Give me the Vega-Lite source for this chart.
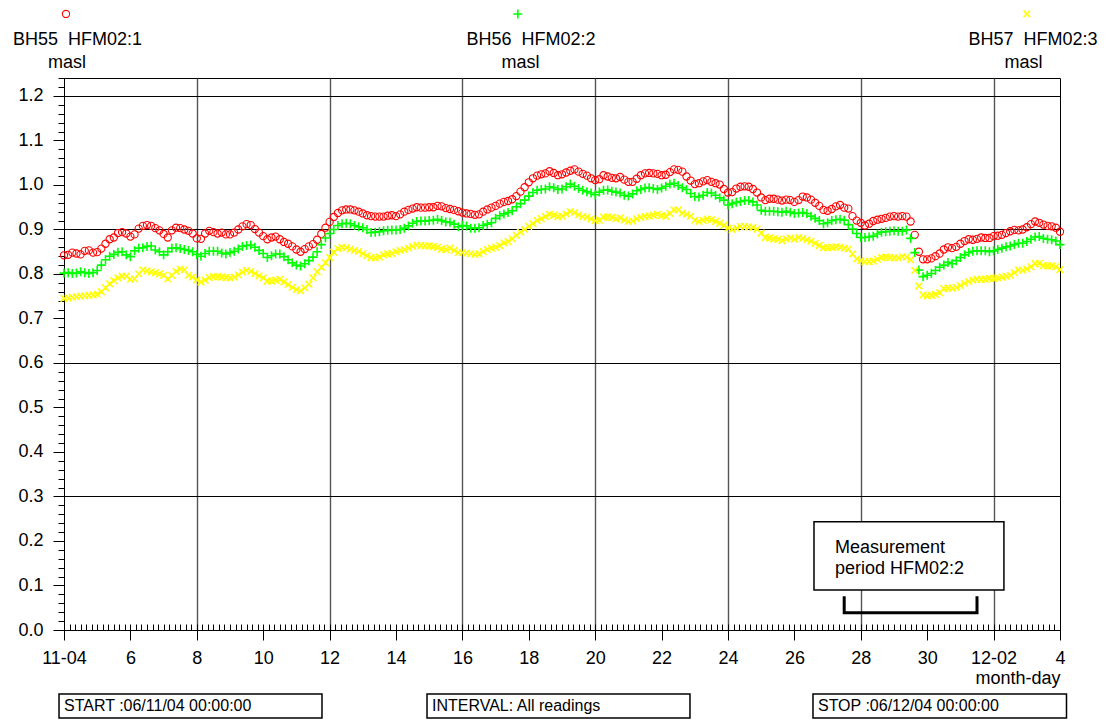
{
"$schema":"https://vega.github.io/schema/vega-lite/v6.json",
"width":996,"height":552,
"autosize":{"type":"none"},
"padding":{"left":64,"top":78,"right":46,"bottom":92},
"background":"white",
"config":{"font":"Liberation Sans","view":{"stroke":"#000","strokeWidth":1},"axis":{"labelFont":"Liberation Sans","titleFont":"Liberation Sans","labelColor":"#000","titleColor":"#000","tickColor":"#000","domainColor":"#000","domainWidth":1,"tickWidth":1}},
"datasets":{
"bh55":[
{"t":"2004-11-04T00:00","v":0.842},{"t":"2004-11-04T03:00","v":0.843},{"t":"2004-11-04T06:00","v":0.848},{"t":"2004-11-04T09:00","v":0.846},{"t":"2004-11-04T12:00","v":0.844},{"t":"2004-11-04T15:00","v":0.852},{"t":"2004-11-04T18:00","v":0.853},{"t":"2004-11-04T21:00","v":0.848},
{"t":"2004-11-05T00:00","v":0.849},{"t":"2004-11-05T03:00","v":0.857},{"t":"2004-11-05T06:00","v":0.868},{"t":"2004-11-05T09:00","v":0.878},{"t":"2004-11-05T12:00","v":0.882},{"t":"2004-11-05T15:00","v":0.892},{"t":"2004-11-05T18:00","v":0.894},{"t":"2004-11-05T21:00","v":0.891},
{"t":"2004-11-06T00:00","v":0.884},{"t":"2004-11-06T03:00","v":0.889},{"t":"2004-11-06T06:00","v":0.902},{"t":"2004-11-06T09:00","v":0.908},{"t":"2004-11-06T12:00","v":0.910},{"t":"2004-11-06T15:00","v":0.908},{"t":"2004-11-06T18:00","v":0.903},{"t":"2004-11-06T21:00","v":0.898},
{"t":"2004-11-07T00:00","v":0.890},{"t":"2004-11-07T03:00","v":0.882},{"t":"2004-11-07T06:00","v":0.898},{"t":"2004-11-07T09:00","v":0.904},{"t":"2004-11-07T12:00","v":0.903},{"t":"2004-11-07T15:00","v":0.900},{"t":"2004-11-07T18:00","v":0.897},{"t":"2004-11-07T21:00","v":0.891},
{"t":"2004-11-08T00:00","v":0.880},{"t":"2004-11-08T03:00","v":0.879},{"t":"2004-11-08T06:00","v":0.891},{"t":"2004-11-08T09:00","v":0.897},{"t":"2004-11-08T12:00","v":0.894},{"t":"2004-11-08T15:00","v":0.891},{"t":"2004-11-08T18:00","v":0.893},{"t":"2004-11-08T21:00","v":0.889},
{"t":"2004-11-09T00:00","v":0.889},{"t":"2004-11-09T03:00","v":0.893},{"t":"2004-11-09T06:00","v":0.900},{"t":"2004-11-09T09:00","v":0.907},{"t":"2004-11-09T12:00","v":0.912},{"t":"2004-11-09T15:00","v":0.910},{"t":"2004-11-09T18:00","v":0.901},{"t":"2004-11-09T21:00","v":0.893},
{"t":"2004-11-10T00:00","v":0.885},{"t":"2004-11-10T03:00","v":0.878},{"t":"2004-11-10T06:00","v":0.882},{"t":"2004-11-10T09:00","v":0.884},{"t":"2004-11-10T12:00","v":0.878},{"t":"2004-11-10T15:00","v":0.872},{"t":"2004-11-10T18:00","v":0.868},{"t":"2004-11-10T21:00","v":0.862},
{"t":"2004-11-11T00:00","v":0.855},{"t":"2004-11-11T03:00","v":0.850},{"t":"2004-11-11T06:00","v":0.856},{"t":"2004-11-11T09:00","v":0.862},{"t":"2004-11-11T12:00","v":0.867},{"t":"2004-11-11T15:00","v":0.877},{"t":"2004-11-11T18:00","v":0.890},{"t":"2004-11-11T21:00","v":0.904},
{"t":"2004-11-12T00:00","v":0.917},{"t":"2004-11-12T03:00","v":0.928},{"t":"2004-11-12T06:00","v":0.937},{"t":"2004-11-12T09:00","v":0.943},{"t":"2004-11-12T12:00","v":0.945},{"t":"2004-11-12T15:00","v":0.945},{"t":"2004-11-12T18:00","v":0.943},{"t":"2004-11-12T21:00","v":0.940},
{"t":"2004-11-13T00:00","v":0.936},{"t":"2004-11-13T03:00","v":0.932},{"t":"2004-11-13T06:00","v":0.930},{"t":"2004-11-13T09:00","v":0.929},{"t":"2004-11-13T12:00","v":0.929},{"t":"2004-11-13T15:00","v":0.929},{"t":"2004-11-13T18:00","v":0.931},{"t":"2004-11-13T21:00","v":0.932},
{"t":"2004-11-14T00:00","v":0.930},{"t":"2004-11-14T03:00","v":0.934},{"t":"2004-11-14T06:00","v":0.940},{"t":"2004-11-14T09:00","v":0.944},{"t":"2004-11-14T12:00","v":0.947},{"t":"2004-11-14T15:00","v":0.950},{"t":"2004-11-14T18:00","v":0.949},{"t":"2004-11-14T21:00","v":0.949},
{"t":"2004-11-15T00:00","v":0.950},{"t":"2004-11-15T03:00","v":0.950},{"t":"2004-11-15T06:00","v":0.953},{"t":"2004-11-15T09:00","v":0.952},{"t":"2004-11-15T12:00","v":0.948},{"t":"2004-11-15T15:00","v":0.946},{"t":"2004-11-15T18:00","v":0.944},{"t":"2004-11-15T21:00","v":0.941},
{"t":"2004-11-16T00:00","v":0.938},{"t":"2004-11-16T03:00","v":0.936},{"t":"2004-11-16T06:00","v":0.935},{"t":"2004-11-16T09:00","v":0.933},{"t":"2004-11-16T12:00","v":0.934},{"t":"2004-11-16T15:00","v":0.940},{"t":"2004-11-16T18:00","v":0.945},{"t":"2004-11-16T21:00","v":0.949},
{"t":"2004-11-17T00:00","v":0.953},{"t":"2004-11-17T03:00","v":0.958},{"t":"2004-11-17T06:00","v":0.962},{"t":"2004-11-17T09:00","v":0.964},{"t":"2004-11-17T12:00","v":0.968},{"t":"2004-11-17T15:00","v":0.975},{"t":"2004-11-17T18:00","v":0.985},{"t":"2004-11-17T21:00","v":0.995},
{"t":"2004-11-18T00:00","v":1.006},{"t":"2004-11-18T03:00","v":1.015},{"t":"2004-11-18T06:00","v":1.021},{"t":"2004-11-18T09:00","v":1.024},{"t":"2004-11-18T12:00","v":1.026},{"t":"2004-11-18T15:00","v":1.031},{"t":"2004-11-18T18:00","v":1.027},{"t":"2004-11-18T21:00","v":1.022},
{"t":"2004-11-19T00:00","v":1.024},{"t":"2004-11-19T03:00","v":1.028},{"t":"2004-11-19T06:00","v":1.032},{"t":"2004-11-19T09:00","v":1.035},{"t":"2004-11-19T12:00","v":1.030},{"t":"2004-11-19T15:00","v":1.025},{"t":"2004-11-19T18:00","v":1.021},{"t":"2004-11-19T21:00","v":1.015},
{"t":"2004-11-20T00:00","v":1.011},{"t":"2004-11-20T03:00","v":1.013},{"t":"2004-11-20T06:00","v":1.022},{"t":"2004-11-20T09:00","v":1.019},{"t":"2004-11-20T12:00","v":1.016},{"t":"2004-11-20T15:00","v":1.015},{"t":"2004-11-20T18:00","v":1.018},{"t":"2004-11-20T21:00","v":1.012},
{"t":"2004-11-21T00:00","v":1.007},{"t":"2004-11-21T03:00","v":1.007},{"t":"2004-11-21T06:00","v":1.014},{"t":"2004-11-21T09:00","v":1.022},{"t":"2004-11-21T12:00","v":1.026},{"t":"2004-11-21T15:00","v":1.027},{"t":"2004-11-21T18:00","v":1.026},{"t":"2004-11-21T21:00","v":1.025},
{"t":"2004-11-22T00:00","v":1.022},{"t":"2004-11-22T03:00","v":1.023},{"t":"2004-11-22T06:00","v":1.029},{"t":"2004-11-22T09:00","v":1.035},{"t":"2004-11-22T12:00","v":1.034},{"t":"2004-11-22T15:00","v":1.030},{"t":"2004-11-22T18:00","v":1.019},{"t":"2004-11-22T21:00","v":1.010},
{"t":"2004-11-23T00:00","v":1.002},{"t":"2004-11-23T03:00","v":1.004},{"t":"2004-11-23T06:00","v":1.008},{"t":"2004-11-23T09:00","v":1.011},{"t":"2004-11-23T12:00","v":1.007},{"t":"2004-11-23T15:00","v":1.004},{"t":"2004-11-23T18:00","v":1.001},{"t":"2004-11-23T21:00","v":0.991},
{"t":"2004-11-24T00:00","v":0.983},{"t":"2004-11-24T03:00","v":0.984},{"t":"2004-11-24T06:00","v":0.992},{"t":"2004-11-24T09:00","v":0.996},{"t":"2004-11-24T12:00","v":0.997},{"t":"2004-11-24T15:00","v":0.996},{"t":"2004-11-24T18:00","v":0.991},{"t":"2004-11-24T21:00","v":0.983},
{"t":"2004-11-25T00:00","v":0.972},{"t":"2004-11-25T03:00","v":0.966},{"t":"2004-11-25T06:00","v":0.969},{"t":"2004-11-25T09:00","v":0.969},{"t":"2004-11-25T12:00","v":0.967},{"t":"2004-11-25T15:00","v":0.965},{"t":"2004-11-25T18:00","v":0.967},{"t":"2004-11-25T21:00","v":0.966},
{"t":"2004-11-26T00:00","v":0.962},{"t":"2004-11-26T03:00","v":0.966},{"t":"2004-11-26T06:00","v":0.974},{"t":"2004-11-26T09:00","v":0.972},{"t":"2004-11-26T12:00","v":0.967},{"t":"2004-11-26T15:00","v":0.960},{"t":"2004-11-26T18:00","v":0.953},{"t":"2004-11-26T21:00","v":0.944},
{"t":"2004-11-27T00:00","v":0.942},{"t":"2004-11-27T03:00","v":0.946},{"t":"2004-11-27T06:00","v":0.952},{"t":"2004-11-27T09:00","v":0.955},{"t":"2004-11-27T12:00","v":0.949},{"t":"2004-11-27T15:00","v":0.947},{"t":"2004-11-27T18:00","v":0.930},{"t":"2004-11-27T21:00","v":0.920},
{"t":"2004-11-28T00:00","v":0.915},{"t":"2004-11-28T03:00","v":0.909},{"t":"2004-11-28T06:00","v":0.913},{"t":"2004-11-28T09:00","v":0.919},{"t":"2004-11-28T12:00","v":0.922},{"t":"2004-11-28T15:00","v":0.924},{"t":"2004-11-28T18:00","v":0.926},{"t":"2004-11-28T21:00","v":0.929},
{"t":"2004-11-29T00:00","v":0.930},{"t":"2004-11-29T03:00","v":0.929},{"t":"2004-11-29T06:00","v":0.930},{"t":"2004-11-29T09:00","v":0.929},{"t":"2004-11-29T12:00","v":0.918},{"t":"2004-11-29T15:00","v":0.888},{"t":"2004-11-29T18:00","v":0.850},{"t":"2004-11-29T21:00","v":0.833},
{"t":"2004-11-30T00:00","v":0.833},{"t":"2004-11-30T03:00","v":0.835},{"t":"2004-11-30T06:00","v":0.840},{"t":"2004-11-30T09:00","v":0.846},{"t":"2004-11-30T12:00","v":0.855},{"t":"2004-11-30T15:00","v":0.860},{"t":"2004-11-30T18:00","v":0.858},{"t":"2004-11-30T21:00","v":0.861},
{"t":"2004-12-01T00:00","v":0.868},{"t":"2004-12-01T03:00","v":0.874},{"t":"2004-12-01T06:00","v":0.878},{"t":"2004-12-01T09:00","v":0.877},{"t":"2004-12-01T12:00","v":0.879},{"t":"2004-12-01T15:00","v":0.882},{"t":"2004-12-01T18:00","v":0.881},{"t":"2004-12-01T21:00","v":0.881},
{"t":"2004-12-02T00:00","v":0.885},{"t":"2004-12-02T03:00","v":0.886},{"t":"2004-12-02T06:00","v":0.888},{"t":"2004-12-02T09:00","v":0.892},{"t":"2004-12-02T12:00","v":0.896},{"t":"2004-12-02T15:00","v":0.899},{"t":"2004-12-02T18:00","v":0.898},{"t":"2004-12-02T21:00","v":0.900},
{"t":"2004-12-03T00:00","v":0.905},{"t":"2004-12-03T03:00","v":0.912},{"t":"2004-12-03T06:00","v":0.918},{"t":"2004-12-03T09:00","v":0.915},{"t":"2004-12-03T12:00","v":0.911},{"t":"2004-12-03T15:00","v":0.908},{"t":"2004-12-03T18:00","v":0.907},{"t":"2004-12-03T21:00","v":0.904},
{"t":"2004-12-04T00:00","v":0.895}
],
"bh56":[
{"t":"2004-11-04T00:00","v":0.802},{"t":"2004-11-04T03:00","v":0.803},{"t":"2004-11-04T06:00","v":0.801},{"t":"2004-11-04T09:00","v":0.802},{"t":"2004-11-04T12:00","v":0.805},{"t":"2004-11-04T15:00","v":0.803},{"t":"2004-11-04T18:00","v":0.801},{"t":"2004-11-04T21:00","v":0.803},
{"t":"2004-11-05T00:00","v":0.808},{"t":"2004-11-05T03:00","v":0.820},{"t":"2004-11-05T06:00","v":0.832},{"t":"2004-11-05T09:00","v":0.840},{"t":"2004-11-05T12:00","v":0.844},{"t":"2004-11-05T15:00","v":0.849},{"t":"2004-11-05T18:00","v":0.850},{"t":"2004-11-05T21:00","v":0.843},
{"t":"2004-11-06T00:00","v":0.839},{"t":"2004-11-06T03:00","v":0.852},{"t":"2004-11-06T06:00","v":0.858},{"t":"2004-11-06T09:00","v":0.859},{"t":"2004-11-06T12:00","v":0.862},{"t":"2004-11-06T15:00","v":0.863},{"t":"2004-11-06T18:00","v":0.854},{"t":"2004-11-06T21:00","v":0.850},
{"t":"2004-11-07T00:00","v":0.843},{"t":"2004-11-07T03:00","v":0.850},{"t":"2004-11-07T06:00","v":0.858},{"t":"2004-11-07T09:00","v":0.859},{"t":"2004-11-07T12:00","v":0.857},{"t":"2004-11-07T15:00","v":0.855},{"t":"2004-11-07T18:00","v":0.853},{"t":"2004-11-07T21:00","v":0.850},
{"t":"2004-11-08T00:00","v":0.844},{"t":"2004-11-08T03:00","v":0.840},{"t":"2004-11-08T06:00","v":0.846},{"t":"2004-11-08T09:00","v":0.851},{"t":"2004-11-08T12:00","v":0.851},{"t":"2004-11-08T15:00","v":0.851},{"t":"2004-11-08T18:00","v":0.847},{"t":"2004-11-08T21:00","v":0.845},
{"t":"2004-11-09T00:00","v":0.848},{"t":"2004-11-09T03:00","v":0.851},{"t":"2004-11-09T06:00","v":0.856},{"t":"2004-11-09T09:00","v":0.862},{"t":"2004-11-09T12:00","v":0.864},{"t":"2004-11-09T15:00","v":0.865},{"t":"2004-11-09T18:00","v":0.860},{"t":"2004-11-09T21:00","v":0.853},
{"t":"2004-11-10T00:00","v":0.846},{"t":"2004-11-10T03:00","v":0.837},{"t":"2004-11-10T06:00","v":0.841},{"t":"2004-11-10T09:00","v":0.845},{"t":"2004-11-10T12:00","v":0.845},{"t":"2004-11-10T15:00","v":0.839},{"t":"2004-11-10T18:00","v":0.832},{"t":"2004-11-10T21:00","v":0.825},
{"t":"2004-11-11T00:00","v":0.820},{"t":"2004-11-11T03:00","v":0.818},{"t":"2004-11-11T06:00","v":0.823},{"t":"2004-11-11T09:00","v":0.830},{"t":"2004-11-11T12:00","v":0.838},{"t":"2004-11-11T15:00","v":0.850},{"t":"2004-11-11T18:00","v":0.866},{"t":"2004-11-11T21:00","v":0.881},
{"t":"2004-11-12T00:00","v":0.891},{"t":"2004-11-12T03:00","v":0.900},{"t":"2004-11-12T06:00","v":0.909},{"t":"2004-11-12T09:00","v":0.913},{"t":"2004-11-12T12:00","v":0.914},{"t":"2004-11-12T15:00","v":0.913},{"t":"2004-11-12T18:00","v":0.909},{"t":"2004-11-12T21:00","v":0.906},
{"t":"2004-11-13T00:00","v":0.904},{"t":"2004-11-13T03:00","v":0.900},{"t":"2004-11-13T06:00","v":0.893},{"t":"2004-11-13T09:00","v":0.894},{"t":"2004-11-13T12:00","v":0.895},{"t":"2004-11-13T15:00","v":0.897},{"t":"2004-11-13T18:00","v":0.898},{"t":"2004-11-13T21:00","v":0.899},
{"t":"2004-11-14T00:00","v":0.899},{"t":"2004-11-14T03:00","v":0.900},{"t":"2004-11-14T06:00","v":0.903},{"t":"2004-11-14T09:00","v":0.908},{"t":"2004-11-14T12:00","v":0.914},{"t":"2004-11-14T15:00","v":0.918},{"t":"2004-11-14T18:00","v":0.919},{"t":"2004-11-14T21:00","v":0.919},
{"t":"2004-11-15T00:00","v":0.920},{"t":"2004-11-15T03:00","v":0.921},{"t":"2004-11-15T06:00","v":0.923},{"t":"2004-11-15T09:00","v":0.920},{"t":"2004-11-15T12:00","v":0.917},{"t":"2004-11-15T15:00","v":0.916},{"t":"2004-11-15T18:00","v":0.912},{"t":"2004-11-15T21:00","v":0.906},
{"t":"2004-11-16T00:00","v":0.909},{"t":"2004-11-16T03:00","v":0.908},{"t":"2004-11-16T06:00","v":0.903},{"t":"2004-11-16T09:00","v":0.903},{"t":"2004-11-16T12:00","v":0.904},{"t":"2004-11-16T15:00","v":0.909},{"t":"2004-11-16T18:00","v":0.912},{"t":"2004-11-16T21:00","v":0.915},
{"t":"2004-11-17T00:00","v":0.925},{"t":"2004-11-17T03:00","v":0.931},{"t":"2004-11-17T06:00","v":0.935},{"t":"2004-11-17T09:00","v":0.938},{"t":"2004-11-17T12:00","v":0.942},{"t":"2004-11-17T15:00","v":0.951},{"t":"2004-11-17T18:00","v":0.958},{"t":"2004-11-17T21:00","v":0.966},
{"t":"2004-11-18T00:00","v":0.975},{"t":"2004-11-18T03:00","v":0.983},{"t":"2004-11-18T06:00","v":0.988},{"t":"2004-11-18T09:00","v":0.990},{"t":"2004-11-18T12:00","v":0.991},{"t":"2004-11-18T15:00","v":0.996},{"t":"2004-11-18T18:00","v":0.994},{"t":"2004-11-18T21:00","v":0.990},
{"t":"2004-11-19T00:00","v":0.991},{"t":"2004-11-19T03:00","v":0.996},{"t":"2004-11-19T06:00","v":1.002},{"t":"2004-11-19T09:00","v":0.997},{"t":"2004-11-19T12:00","v":0.992},{"t":"2004-11-19T15:00","v":0.988},{"t":"2004-11-19T18:00","v":0.985},{"t":"2004-11-19T21:00","v":0.982},
{"t":"2004-11-20T00:00","v":0.978},{"t":"2004-11-20T03:00","v":0.984},{"t":"2004-11-20T06:00","v":0.988},{"t":"2004-11-20T09:00","v":0.989},{"t":"2004-11-20T12:00","v":0.986},{"t":"2004-11-20T15:00","v":0.984},{"t":"2004-11-20T18:00","v":0.982},{"t":"2004-11-20T21:00","v":0.977},
{"t":"2004-11-21T00:00","v":0.975},{"t":"2004-11-21T03:00","v":0.980},{"t":"2004-11-21T06:00","v":0.987},{"t":"2004-11-21T09:00","v":0.990},{"t":"2004-11-21T12:00","v":0.993},{"t":"2004-11-21T15:00","v":0.994},{"t":"2004-11-21T18:00","v":0.992},{"t":"2004-11-21T21:00","v":0.990},
{"t":"2004-11-22T00:00","v":0.993},{"t":"2004-11-22T03:00","v":0.997},{"t":"2004-11-22T06:00","v":1.002},{"t":"2004-11-22T09:00","v":1.004},{"t":"2004-11-22T12:00","v":0.999},{"t":"2004-11-22T15:00","v":0.994},{"t":"2004-11-22T18:00","v":0.990},{"t":"2004-11-22T21:00","v":0.981},
{"t":"2004-11-23T00:00","v":0.974},{"t":"2004-11-23T03:00","v":0.973},{"t":"2004-11-23T06:00","v":0.977},{"t":"2004-11-23T09:00","v":0.983},{"t":"2004-11-23T12:00","v":0.982},{"t":"2004-11-23T15:00","v":0.977},{"t":"2004-11-23T18:00","v":0.971},{"t":"2004-11-23T21:00","v":0.966},
{"t":"2004-11-24T00:00","v":0.955},{"t":"2004-11-24T03:00","v":0.958},{"t":"2004-11-24T06:00","v":0.961},{"t":"2004-11-24T09:00","v":0.963},{"t":"2004-11-24T12:00","v":0.965},{"t":"2004-11-24T15:00","v":0.965},{"t":"2004-11-24T18:00","v":0.962},{"t":"2004-11-24T21:00","v":0.955},
{"t":"2004-11-25T00:00","v":0.943},{"t":"2004-11-25T03:00","v":0.941},{"t":"2004-11-25T06:00","v":0.941},{"t":"2004-11-25T09:00","v":0.941},{"t":"2004-11-25T12:00","v":0.940},{"t":"2004-11-25T15:00","v":0.939},{"t":"2004-11-25T18:00","v":0.941},{"t":"2004-11-25T21:00","v":0.939},
{"t":"2004-11-26T00:00","v":0.936},{"t":"2004-11-26T03:00","v":0.937},{"t":"2004-11-26T06:00","v":0.938},{"t":"2004-11-26T09:00","v":0.936},{"t":"2004-11-26T12:00","v":0.930},{"t":"2004-11-26T15:00","v":0.925},{"t":"2004-11-26T18:00","v":0.920},{"t":"2004-11-26T21:00","v":0.913},
{"t":"2004-11-27T00:00","v":0.915},{"t":"2004-11-27T03:00","v":0.920},{"t":"2004-11-27T06:00","v":0.922},{"t":"2004-11-27T09:00","v":0.923},{"t":"2004-11-27T12:00","v":0.921},{"t":"2004-11-27T15:00","v":0.911},{"t":"2004-11-27T18:00","v":0.901},{"t":"2004-11-27T21:00","v":0.891},
{"t":"2004-11-28T00:00","v":0.882},{"t":"2004-11-28T03:00","v":0.882},{"t":"2004-11-28T06:00","v":0.883},{"t":"2004-11-28T09:00","v":0.885},{"t":"2004-11-28T12:00","v":0.890},{"t":"2004-11-28T15:00","v":0.894},{"t":"2004-11-28T18:00","v":0.895},{"t":"2004-11-28T21:00","v":0.896},
{"t":"2004-11-29T00:00","v":0.897},{"t":"2004-11-29T03:00","v":0.896},{"t":"2004-11-29T06:00","v":0.896},{"t":"2004-11-29T09:00","v":0.899},{"t":"2004-11-29T12:00","v":0.880},{"t":"2004-11-29T15:00","v":0.848},{"t":"2004-11-29T18:00","v":0.809},{"t":"2004-11-29T21:00","v":0.794},
{"t":"2004-11-30T00:00","v":0.797},{"t":"2004-11-30T03:00","v":0.801},{"t":"2004-11-30T06:00","v":0.808},{"t":"2004-11-30T09:00","v":0.815},{"t":"2004-11-30T12:00","v":0.820},{"t":"2004-11-30T15:00","v":0.826},{"t":"2004-11-30T18:00","v":0.823},{"t":"2004-11-30T21:00","v":0.830},
{"t":"2004-12-01T00:00","v":0.837},{"t":"2004-12-01T03:00","v":0.843},{"t":"2004-12-01T06:00","v":0.848},{"t":"2004-12-01T09:00","v":0.851},{"t":"2004-12-01T12:00","v":0.852},{"t":"2004-12-01T15:00","v":0.852},{"t":"2004-12-01T18:00","v":0.852},{"t":"2004-12-01T21:00","v":0.850},
{"t":"2004-12-02T00:00","v":0.852},{"t":"2004-12-02T03:00","v":0.855},{"t":"2004-12-02T06:00","v":0.858},{"t":"2004-12-02T09:00","v":0.861},{"t":"2004-12-02T12:00","v":0.863},{"t":"2004-12-02T15:00","v":0.866},{"t":"2004-12-02T18:00","v":0.869},{"t":"2004-12-02T21:00","v":0.869},
{"t":"2004-12-03T00:00","v":0.873},{"t":"2004-12-03T03:00","v":0.878},{"t":"2004-12-03T06:00","v":0.883},{"t":"2004-12-03T09:00","v":0.884},{"t":"2004-12-03T12:00","v":0.880},{"t":"2004-12-03T15:00","v":0.878},{"t":"2004-12-03T18:00","v":0.877},{"t":"2004-12-03T21:00","v":0.874},
{"t":"2004-12-04T00:00","v":0.866}
],
"bh57":[
{"t":"2004-11-04T00:00","v":0.745},{"t":"2004-11-04T03:00","v":0.746},{"t":"2004-11-04T06:00","v":0.748},{"t":"2004-11-04T09:00","v":0.749},{"t":"2004-11-04T12:00","v":0.750},{"t":"2004-11-04T15:00","v":0.751},{"t":"2004-11-04T18:00","v":0.752},{"t":"2004-11-04T21:00","v":0.753},
{"t":"2004-11-05T00:00","v":0.754},{"t":"2004-11-05T03:00","v":0.760},{"t":"2004-11-05T06:00","v":0.769},{"t":"2004-11-05T09:00","v":0.778},{"t":"2004-11-05T12:00","v":0.785},{"t":"2004-11-05T15:00","v":0.791},{"t":"2004-11-05T18:00","v":0.795},{"t":"2004-11-05T21:00","v":0.795},
{"t":"2004-11-06T00:00","v":0.788},{"t":"2004-11-06T03:00","v":0.789},{"t":"2004-11-06T06:00","v":0.800},{"t":"2004-11-06T09:00","v":0.809},{"t":"2004-11-06T12:00","v":0.807},{"t":"2004-11-06T15:00","v":0.805},{"t":"2004-11-06T18:00","v":0.803},{"t":"2004-11-06T21:00","v":0.800},
{"t":"2004-11-07T00:00","v":0.797},{"t":"2004-11-07T03:00","v":0.789},{"t":"2004-11-07T06:00","v":0.797},{"t":"2004-11-07T09:00","v":0.806},{"t":"2004-11-07T12:00","v":0.811},{"t":"2004-11-07T15:00","v":0.809},{"t":"2004-11-07T18:00","v":0.797},{"t":"2004-11-07T21:00","v":0.793},
{"t":"2004-11-08T00:00","v":0.787},{"t":"2004-11-08T03:00","v":0.782},{"t":"2004-11-08T06:00","v":0.786},{"t":"2004-11-08T09:00","v":0.792},{"t":"2004-11-08T12:00","v":0.794},{"t":"2004-11-08T15:00","v":0.794},{"t":"2004-11-08T18:00","v":0.793},{"t":"2004-11-08T21:00","v":0.792},
{"t":"2004-11-09T00:00","v":0.791},{"t":"2004-11-09T03:00","v":0.793},{"t":"2004-11-09T06:00","v":0.798},{"t":"2004-11-09T09:00","v":0.804},{"t":"2004-11-09T12:00","v":0.808},{"t":"2004-11-09T15:00","v":0.806},{"t":"2004-11-09T18:00","v":0.801},{"t":"2004-11-09T21:00","v":0.796},
{"t":"2004-11-10T00:00","v":0.791},{"t":"2004-11-10T03:00","v":0.784},{"t":"2004-11-10T06:00","v":0.784},{"t":"2004-11-10T09:00","v":0.786},{"t":"2004-11-10T12:00","v":0.788},{"t":"2004-11-10T15:00","v":0.782},{"t":"2004-11-10T18:00","v":0.776},{"t":"2004-11-10T21:00","v":0.770},
{"t":"2004-11-11T00:00","v":0.765},{"t":"2004-11-11T03:00","v":0.762},{"t":"2004-11-11T06:00","v":0.769},{"t":"2004-11-11T09:00","v":0.777},{"t":"2004-11-11T12:00","v":0.791},{"t":"2004-11-11T15:00","v":0.805},{"t":"2004-11-11T18:00","v":0.815},{"t":"2004-11-11T21:00","v":0.825},
{"t":"2004-11-12T00:00","v":0.837},{"t":"2004-11-12T03:00","v":0.849},{"t":"2004-11-12T06:00","v":0.857},{"t":"2004-11-12T09:00","v":0.860},{"t":"2004-11-12T12:00","v":0.859},{"t":"2004-11-12T15:00","v":0.856},{"t":"2004-11-12T18:00","v":0.853},{"t":"2004-11-12T21:00","v":0.851},
{"t":"2004-11-13T00:00","v":0.846},{"t":"2004-11-13T03:00","v":0.841},{"t":"2004-11-13T06:00","v":0.837},{"t":"2004-11-13T09:00","v":0.836},{"t":"2004-11-13T12:00","v":0.838},{"t":"2004-11-13T15:00","v":0.843},{"t":"2004-11-13T18:00","v":0.845},{"t":"2004-11-13T21:00","v":0.846},
{"t":"2004-11-14T00:00","v":0.850},{"t":"2004-11-14T03:00","v":0.853},{"t":"2004-11-14T06:00","v":0.855},{"t":"2004-11-14T09:00","v":0.858},{"t":"2004-11-14T12:00","v":0.862},{"t":"2004-11-14T15:00","v":0.865},{"t":"2004-11-14T18:00","v":0.864},{"t":"2004-11-14T21:00","v":0.863},
{"t":"2004-11-15T00:00","v":0.863},{"t":"2004-11-15T03:00","v":0.862},{"t":"2004-11-15T06:00","v":0.860},{"t":"2004-11-15T09:00","v":0.856},{"t":"2004-11-15T12:00","v":0.855},{"t":"2004-11-15T15:00","v":0.858},{"t":"2004-11-15T18:00","v":0.853},{"t":"2004-11-15T21:00","v":0.848},
{"t":"2004-11-16T00:00","v":0.848},{"t":"2004-11-16T03:00","v":0.847},{"t":"2004-11-16T06:00","v":0.846},{"t":"2004-11-16T09:00","v":0.844},{"t":"2004-11-16T12:00","v":0.845},{"t":"2004-11-16T15:00","v":0.850},{"t":"2004-11-16T18:00","v":0.855},{"t":"2004-11-16T21:00","v":0.858},
{"t":"2004-11-17T00:00","v":0.860},{"t":"2004-11-17T03:00","v":0.864},{"t":"2004-11-17T06:00","v":0.870},{"t":"2004-11-17T09:00","v":0.873},{"t":"2004-11-17T12:00","v":0.879},{"t":"2004-11-17T15:00","v":0.887},{"t":"2004-11-17T18:00","v":0.894},{"t":"2004-11-17T21:00","v":0.900},
{"t":"2004-11-18T00:00","v":0.907},{"t":"2004-11-18T03:00","v":0.913},{"t":"2004-11-18T06:00","v":0.920},{"t":"2004-11-18T09:00","v":0.924},{"t":"2004-11-18T12:00","v":0.929},{"t":"2004-11-18T15:00","v":0.934},{"t":"2004-11-18T18:00","v":0.932},{"t":"2004-11-18T21:00","v":0.929},
{"t":"2004-11-19T00:00","v":0.930},{"t":"2004-11-19T03:00","v":0.935},{"t":"2004-11-19T06:00","v":0.940},{"t":"2004-11-19T09:00","v":0.938},{"t":"2004-11-19T12:00","v":0.933},{"t":"2004-11-19T15:00","v":0.929},{"t":"2004-11-19T18:00","v":0.928},{"t":"2004-11-19T21:00","v":0.924},
{"t":"2004-11-20T00:00","v":0.920},{"t":"2004-11-20T03:00","v":0.921},{"t":"2004-11-20T06:00","v":0.928},{"t":"2004-11-20T09:00","v":0.928},{"t":"2004-11-20T12:00","v":0.927},{"t":"2004-11-20T15:00","v":0.924},{"t":"2004-11-20T18:00","v":0.926},{"t":"2004-11-20T21:00","v":0.921},
{"t":"2004-11-21T00:00","v":0.918},{"t":"2004-11-21T03:00","v":0.919},{"t":"2004-11-21T06:00","v":0.924},{"t":"2004-11-21T09:00","v":0.927},{"t":"2004-11-21T12:00","v":0.929},{"t":"2004-11-21T15:00","v":0.930},{"t":"2004-11-21T18:00","v":0.932},{"t":"2004-11-21T21:00","v":0.934},
{"t":"2004-11-22T00:00","v":0.931},{"t":"2004-11-22T03:00","v":0.930},{"t":"2004-11-22T06:00","v":0.936},{"t":"2004-11-22T09:00","v":0.944},{"t":"2004-11-22T12:00","v":0.944},{"t":"2004-11-22T15:00","v":0.937},{"t":"2004-11-22T18:00","v":0.934},{"t":"2004-11-22T21:00","v":0.930},
{"t":"2004-11-23T00:00","v":0.921},{"t":"2004-11-23T03:00","v":0.918},{"t":"2004-11-23T06:00","v":0.920},{"t":"2004-11-23T09:00","v":0.923},{"t":"2004-11-23T12:00","v":0.922},{"t":"2004-11-23T15:00","v":0.918},{"t":"2004-11-23T18:00","v":0.914},{"t":"2004-11-23T21:00","v":0.909},
{"t":"2004-11-24T00:00","v":0.903},{"t":"2004-11-24T03:00","v":0.900},{"t":"2004-11-24T06:00","v":0.903},{"t":"2004-11-24T09:00","v":0.907},{"t":"2004-11-24T12:00","v":0.907},{"t":"2004-11-24T15:00","v":0.906},{"t":"2004-11-24T18:00","v":0.905},{"t":"2004-11-24T21:00","v":0.901},
{"t":"2004-11-25T00:00","v":0.892},{"t":"2004-11-25T03:00","v":0.882},{"t":"2004-11-25T06:00","v":0.881},{"t":"2004-11-25T09:00","v":0.879},{"t":"2004-11-25T12:00","v":0.878},{"t":"2004-11-25T15:00","v":0.875},{"t":"2004-11-25T18:00","v":0.879},{"t":"2004-11-25T21:00","v":0.881},
{"t":"2004-11-26T00:00","v":0.878},{"t":"2004-11-26T03:00","v":0.882},{"t":"2004-11-26T06:00","v":0.880},{"t":"2004-11-26T09:00","v":0.877},{"t":"2004-11-26T12:00","v":0.874},{"t":"2004-11-26T15:00","v":0.869},{"t":"2004-11-26T18:00","v":0.864},{"t":"2004-11-26T21:00","v":0.859},
{"t":"2004-11-27T00:00","v":0.859},{"t":"2004-11-27T03:00","v":0.860},{"t":"2004-11-27T06:00","v":0.861},{"t":"2004-11-27T09:00","v":0.860},{"t":"2004-11-27T12:00","v":0.858},{"t":"2004-11-27T15:00","v":0.856},{"t":"2004-11-27T18:00","v":0.845},{"t":"2004-11-27T21:00","v":0.834},
{"t":"2004-11-28T00:00","v":0.830},{"t":"2004-11-28T03:00","v":0.828},{"t":"2004-11-28T06:00","v":0.828},{"t":"2004-11-28T09:00","v":0.829},{"t":"2004-11-28T12:00","v":0.833},{"t":"2004-11-28T15:00","v":0.837},{"t":"2004-11-28T18:00","v":0.838},{"t":"2004-11-28T21:00","v":0.837},
{"t":"2004-11-29T00:00","v":0.836},{"t":"2004-11-29T03:00","v":0.836},{"t":"2004-11-29T06:00","v":0.839},{"t":"2004-11-29T09:00","v":0.838},{"t":"2004-11-29T12:00","v":0.832},{"t":"2004-11-29T15:00","v":0.808},{"t":"2004-11-29T18:00","v":0.773},{"t":"2004-11-29T21:00","v":0.753},
{"t":"2004-11-30T00:00","v":0.751},{"t":"2004-11-30T03:00","v":0.752},{"t":"2004-11-30T06:00","v":0.754},{"t":"2004-11-30T09:00","v":0.758},{"t":"2004-11-30T12:00","v":0.767},{"t":"2004-11-30T15:00","v":0.768},{"t":"2004-11-30T18:00","v":0.768},{"t":"2004-11-30T21:00","v":0.770},
{"t":"2004-12-01T00:00","v":0.774},{"t":"2004-12-01T03:00","v":0.779},{"t":"2004-12-01T06:00","v":0.783},{"t":"2004-12-01T09:00","v":0.786},{"t":"2004-12-01T12:00","v":0.788},{"t":"2004-12-01T15:00","v":0.788},{"t":"2004-12-01T18:00","v":0.788},{"t":"2004-12-01T21:00","v":0.790},
{"t":"2004-12-02T00:00","v":0.790},{"t":"2004-12-02T03:00","v":0.791},{"t":"2004-12-02T06:00","v":0.793},{"t":"2004-12-02T09:00","v":0.795},{"t":"2004-12-02T12:00","v":0.797},{"t":"2004-12-02T15:00","v":0.803},{"t":"2004-12-02T18:00","v":0.809},{"t":"2004-12-02T21:00","v":0.808},
{"t":"2004-12-03T00:00","v":0.811},{"t":"2004-12-03T03:00","v":0.816},{"t":"2004-12-03T06:00","v":0.823},{"t":"2004-12-03T09:00","v":0.824},{"t":"2004-12-03T12:00","v":0.819},{"t":"2004-12-03T15:00","v":0.818},{"t":"2004-12-03T18:00","v":0.818},{"t":"2004-12-03T21:00","v":0.816},
{"t":"2004-12-04T00:00","v":0.810}
]
},
"encoding":{
"x":{"field":"t","type":"temporal","scale":{"domain":[{"year":2004,"month":11,"date":4},{"year":2004,"month":12,"date":4}],"nice":false},"axis":null},
"y":{"field":"v","type":"quantitative","scale":{"domain":[0,1.2404],"nice":false,"zero":false},"axis":null}
},
"resolve":{"axis":{"x":"independent","y":"independent"}},
"layer":[
{"data":{"name":"bh55"},
 "mark":{"type":"point","shape":"circle","filled":false,"color":"#ff0000","size":52,"strokeWidth":1.1,"opacity":1},
 "encoding":{
  "x":{"field":"t","type":"temporal","scale":{"domain":[{"year":2004,"month":11,"date":4},{"year":2004,"month":12,"date":4}],"nice":false},
   "axis":{"orient":"bottom","values":[{"year":2004,"month":11,"date":4},{"year":2004,"month":11,"date":6},{"year":2004,"month":11,"date":8},{"year":2004,"month":11,"date":10},{"year":2004,"month":11,"date":12},{"year":2004,"month":11,"date":14},{"year":2004,"month":11,"date":16},{"year":2004,"month":11,"date":18},{"year":2004,"month":11,"date":20},{"year":2004,"month":11,"date":22},{"year":2004,"month":11,"date":24},{"year":2004,"month":11,"date":26},{"year":2004,"month":11,"date":28},{"year":2004,"month":11,"date":30},{"year":2004,"month":12,"date":2},{"year":2004,"month":12,"date":4}],
    "labelExpr":"(month(datum.value)==10&&date(datum.value)==4)||(month(datum.value)==11&&date(datum.value)==2)?timeFormat(datum.value,'%m-%d'):timeFormat(datum.value,'%-d')",
    "grid":false,"tickSize":10,"labelFontSize":18,"labelPadding":9,"labelFlush":false,"labelOverlap":false,"labelAngle":0,
    "title":"month-day","titleAnchor":"end","titleFontSize":18,"titleFontWeight":"normal","titlePadding":2}},
  "y":{"field":"v","type":"quantitative","scale":{"domain":[0,1.2404],"nice":false,"zero":false},
   "axis":{"orient":"left","values":[0,0.1,0.2,0.3,0.4,0.5,0.6,0.7,0.8,0.9,1.0,1.1,1.2],"format":".1f","grid":false,"tickSize":11,"labelFontSize":18,"labelPadding":10,"labelFlush":false,"labelOverlap":false,"title":null}}
 }},
{"data":{"name":"bh56"},
 "mark":{"type":"point","shape":"M-1,0L1,0M0,-1L0,1","filled":false,"color":"#00ff00","size":81,"strokeWidth":1.6,"opacity":1},
 "encoding":{
  "x":{"field":"t","type":"temporal","scale":{"domain":[{"year":2004,"month":11,"date":4},{"year":2004,"month":12,"date":4}],"nice":false},
   "axis":{"orient":"bottom","values":[{"year":2004,"month":11,"date":8},{"year":2004,"month":11,"date":12},{"year":2004,"month":11,"date":16},{"year":2004,"month":11,"date":20},{"year":2004,"month":11,"date":24},{"year":2004,"month":11,"date":28},{"year":2004,"month":12,"date":2}],
    "grid":true,"gridColor":"#555555","gridWidth":1.4,"gridOpacity":1,"ticks":false,"labels":false,"domain":false,"title":null}},
  "y":{"field":"v","type":"quantitative","scale":{"domain":[0,1.2404],"nice":false,"zero":false},
   "axis":{"orient":"left","values":[0.3,0.6,0.9,1.2],"grid":true,"gridColor":"#000","gridWidth":1.2,"gridOpacity":1,"ticks":false,"labels":false,"domain":false,"title":null}}
 }},
{"data":{"name":"bh57"},
 "mark":{"type":"point","shape":"M-1,-1L1,1M-1,1L1,-1","filled":false,"color":"#ffff00","size":44,"strokeWidth":1.6,"opacity":1},
 "encoding":{
  "x":{"field":"t","type":"temporal","scale":{"domain":[{"year":2004,"month":11,"date":4},{"year":2004,"month":12,"date":4}],"nice":false},
   "axis":{"orient":"bottom","values":{"expr":"sequence(+datetime(2004,10,4), +datetime(2004,11,4)+1, 14400000)"},"offset":-6,"ticks":true,"tickSize":6,"labels":false,"domain":false,"grid":false,"title":null}},
  "y":{"field":"v","type":"quantitative","scale":{"domain":[0,1.2404],"nice":false,"zero":false},
   "axis":{"orient":"left","values":[0,0.02,0.04,0.06,0.08,0.1,0.12,0.14,0.16,0.18,0.2,0.22,0.24,0.26,0.28,0.3,0.32,0.34,0.36,0.38,0.4,0.42,0.44,0.46,0.48,0.5,0.52,0.54,0.56,0.58,0.6,0.62,0.64,0.66,0.68,0.7,0.72,0.74,0.76,0.78,0.8,0.82,0.84,0.86,0.88,0.9,0.92,0.94,0.96,0.98,1.0,1.02,1.04,1.06,1.08,1.1,1.12,1.14,1.16,1.18,1.2,1.22,1.24],"ticks":true,"tickSize":6,"labels":false,"domain":false,"grid":false,"title":null}}
 }},
{"data":{"values":[{"t":"2004-11-04T01:26","v":1.3843}]},
 "mark":{"type":"point","shape":"circle","filled":false,"color":"#ff0000","size":52,"strokeWidth":1.1,"opacity":1},
 "encoding":{}},
{"data":{"values":[{"t":"2004-11-17T16:05","v":1.3843}]},
 "mark":{"type":"point","shape":"M-1,0L1,0M0,-1L0,1","filled":false,"color":"#00ff00","size":81,"strokeWidth":1.6,"opacity":1},
 "encoding":{}},
{"data":{"values":[{"t":"2004-12-03T00:00","v":1.3843}]},
 "mark":{"type":"point","shape":"M-1,-1L1,1M-1,1L1,-1","filled":false,"color":"#ffff00","size":44,"strokeWidth":1.6,"opacity":1},
 "encoding":{}},
{"data":{"values":[
  {"t":"2004-11-04T09:50","v":1.3247,"label":"BH55\u00a0 HFM02:1"},
  {"t":"2004-11-18T01:40","v":1.3247,"label":"BH56\u00a0 HFM02:2"},
  {"t":"2004-12-03T04:30","v":1.3247,"label":"BH57\u00a0 HFM02:3"},
  {"t":"2004-11-04T02:10","v":1.2745,"label":"masl"},
  {"t":"2004-11-17T18:00","v":1.2745,"label":"masl"},
  {"t":"2004-12-02T21:36","v":1.2745,"label":"masl"}]},
 "mark":{"type":"text","fontSize":18,"align":"center","baseline":"middle","color":"#000"},
 "encoding":{"text":{"field":"label"}}},
{"data":{"values":[
  {"t":"2004-11-26T14:10","t2":"2004-12-02T07:28","v":0.2434,"v2":0.0899},
  {"t":"2004-11-03T20:24","t2":"2004-11-11T18:30","v":-0.1438,"v2":-0.1978},
  {"t":"2004-11-14T22:25","t2":"2004-11-22T20:31","v":-0.1438,"v2":-0.1978},
  {"t":"2004-11-26T13:26","t2":"2004-12-04T04:42","v":-0.1438,"v2":-0.1978}]},
 "mark":{"type":"rect","fill":"#ffffff","stroke":"#000","strokeWidth":1.5},
 "encoding":{"x2":{"field":"t2"},"y2":{"field":"v2"}}},
{"data":{"values":[
  {"t":"2004-11-27T12:00","v":0.0726,"o":1},
  {"t":"2004-11-27T12:00","v":0.039,"o":2},
  {"t":"2004-12-01T12:00","v":0.039,"o":3},
  {"t":"2004-12-01T12:00","v":0.0726,"o":4}]},
 "mark":{"type":"line","color":"#000","strokeWidth":3,"strokeCap":"square","strokeJoin":"miter"},
 "encoding":{"order":{"field":"o","type":"quantitative"}}},
{"data":{"values":[
  {"t":"2004-11-27T05:17","v":0.173,"label":"Measurement"},
  {"t":"2004-11-27T05:17","v":0.1258,"label":"period HFM02:2"}]},
 "mark":{"type":"text","fontSize":18,"align":"left","baseline":"alphabetic","color":"#000"},
 "encoding":{"text":{"field":"label"}}},
{"data":{"values":[
  {"t":"2004-11-04T00:00","v":-0.1708,"label":"START :06/11/04 00:00:00"},
  {"t":"2004-11-15T02:01","v":-0.1708,"label":"INTERVAL: All readings"},
  {"t":"2004-11-26T17:02","v":-0.1708,"label":"STOP :06/12/04 00:00:00"}]},
 "mark":{"type":"text","fontSize":16,"align":"left","baseline":"middle","color":"#000"},
 "encoding":{"text":{"field":"label"}}}
]
}
